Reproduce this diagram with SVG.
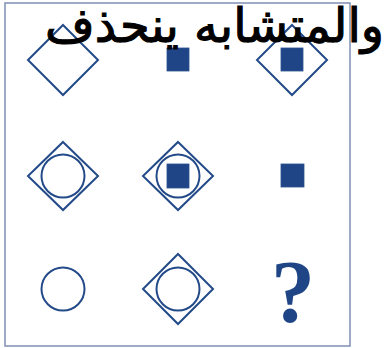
<svg xmlns="http://www.w3.org/2000/svg" width="386" height="348" viewBox="0 0 386 348">
<style>
.o{fill:none;stroke:#234a88;stroke-width:2}
.f{fill:#1f4586;stroke:#2a5090;stroke-width:0.8}
.q{font-family:"Liberation Serif",serif;font-size:88px;fill:#1f4586;font-weight:bold}
.t{font-family:"DejaVu Sans",sans-serif;font-size:48px;fill:#000;stroke:#000;stroke-width:1.1}
</style>
<rect x="5" y="3" width="345" height="343" fill="#fff" stroke="#8090b4" stroke-width="1.5"/>
<g id="r1c1"><polygon class="o" points="63,25 98,60 63,95 28,60"/></g>
<g id="r1c2"><rect class="f" x="167" y="48" width="22" height="23"/></g>
<g id="r1c3"><polygon class="o" points="292,25 327,60 292,95 257,60"/><rect class="f" x="281" y="48" width="22" height="23"/></g>
<g id="r2c1"><polygon class="o" points="63,142 98,176 63,210 28,176"/><circle class="o" cx="63" cy="176" r="21.5"/></g>
<g id="r2c2"><polygon class="o" points="178,142 213,176 178,210 143,176"/><circle class="o" cx="178" cy="176" r="21.5"/><rect class="f" x="167" y="164" width="22" height="24"/></g>
<g id="r2c3"><rect class="f" x="281" y="164" width="23" height="23"/></g>
<g id="r3c1"><circle class="o" cx="63" cy="289" r="21.5"/></g>
<g id="r3c2"><polygon class="o" points="178,254 213,289 178,324 143,289"/><circle class="o" cx="178" cy="289" r="21.5"/></g>
<g id="r3c3"><text class="q" x="293" y="321" text-anchor="middle">?</text></g>
<text class="t" x="384" y="42" direction="rtl" text-anchor="start">والمتشابه ينحذف</text>
</svg>
